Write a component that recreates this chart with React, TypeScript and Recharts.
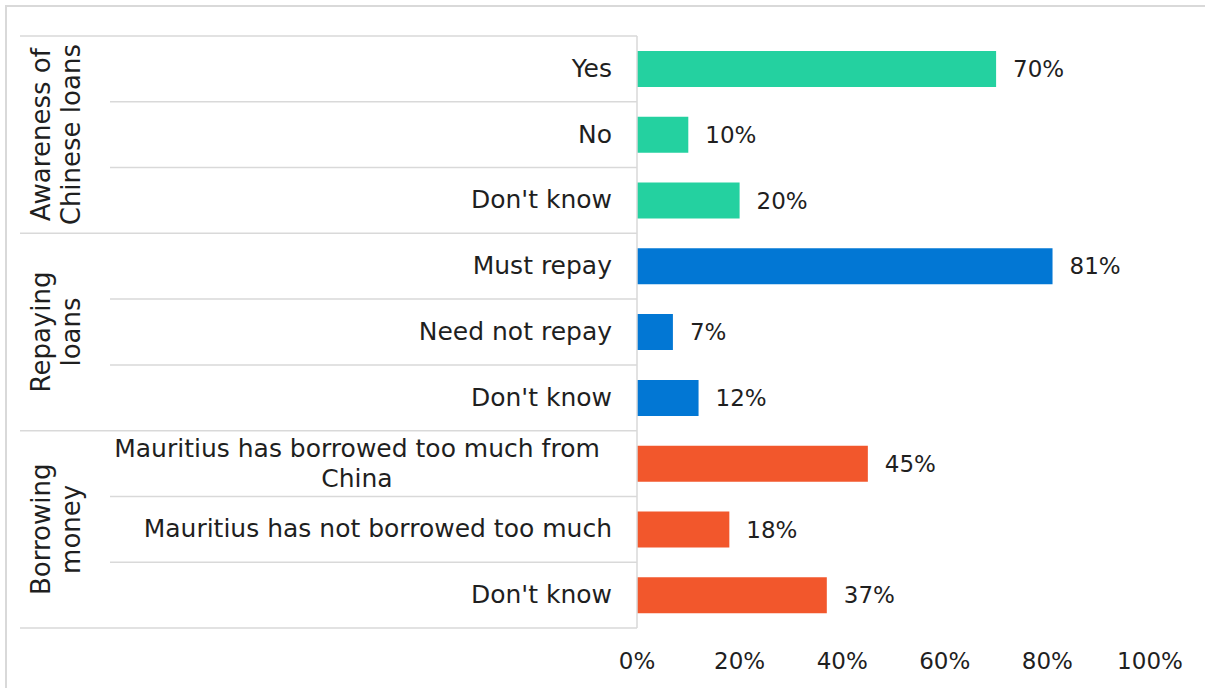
import React from 'react'
import { BarChart, Bar, XAxis, YAxis, Cell, LabelList } from 'recharts'

const categories = [
  'Yes',
  'No',
  "Don't know",
  'Must repay',
  'Need not repay',
  "Don't know",
  'Mauritius has borrowed too much from China',
  'Mauritius has not borrowed too much',
  "Don't know",
]
const values = [70, 10, 20, 81, 7, 12, 45, 18, 37]
const groupNames = [
  ['Awareness of', 'Chinese loans'],
  ['Repaying', 'loans'],
  ['Borrowing', 'money'],
]
const groupColors = ['#24D1A0', '#0277D4', '#F2572C']
const xTicks = [0, 20, 40, 60, 80, 100]

const data = categories.map((name, i) => ({ id: i, name, value: values[i] }))

const W = 1205
const H = 688
const TOP = 36
const BOTTOM = 628
const LEFT = 637
const RIGHT = 1150
const ROW = (BOTTOM - TOP) / categories.length
const GRID = '#d9d9d9'
const FONT = '"DejaVu Sans", sans-serif'
const INK = '#1f1f1f'

function CategoryTick(props: any) {
  const { y, payload, index } = props
  const i = typeof index === 'number' ? index : payload.index
  const top = y - ROW / 2
  const first = i % 3 === 0
  const g = Math.floor(i / 3)
  return (
    <g>
      <line x1={first ? 20 : 110} x2={LEFT} y1={top} y2={top} stroke={GRID} strokeWidth={1.5} />
      {i === categories.length - 1 && (
        <line x1={20} x2={LEFT} y1={top + ROW} y2={top + ROW} stroke={GRID} strokeWidth={1.5} />
      )}
      <foreignObject x={102} y={top} width={510} height={ROW}>
        <div
          style={{
            height: '100%',
            display: 'flex',
            alignItems: 'center',
            justifyContent: 'flex-end',
            textAlign: 'center',
            fontFamily: FONT,
            fontSize: 25,
            lineHeight: '30px',
            color: INK,
          }}
        >
          <span>{categories[i]}</span>
        </div>
      </foreignObject>
      {i % 3 === 1 && (
        <text
          transform={`rotate(-90, 65, ${y})`}
          x={65}
          y={y}
          textAnchor="middle"
          fontFamily={FONT}
          fontSize={26}
          fill={INK}
        >
          <tspan x={65} y={y - 15}>{groupNames[g][0]}</tspan>
          <tspan x={65} y={y + 15}>{groupNames[g][1]}</tspan>
        </text>
      )}
    </g>
  )
}

export default function App() {
  return (
    <div style={{ position: 'relative', width: W, height: H, background: '#fff', overflow: 'hidden' }}>
      <style>{'body{margin:0}'}</style>
      <div
        style={{
          position: 'absolute',
          left: 5,
          top: 5,
          width: W,
          height: H,
          borderLeft: `2px solid ${GRID}`,
          borderTop: `2px solid ${GRID}`,
        }}
      />
      <BarChart
        width={W}
        height={H}
        data={data}
        layout="vertical"
        margin={{ top: TOP, right: W - RIGHT, bottom: 0, left: 0 }}
        barCategoryGap={0}
      >
        <XAxis
          type="number"
          domain={[0, 100]}
          ticks={xTicks}
          tickFormatter={(v: number) => `${v}%`}
          axisLine={false}
          tickLine={false}
          height={H - BOTTOM}
          tickMargin={19}
          tick={{ fill: INK, fontSize: 23, fontFamily: FONT }}
        />
        <YAxis
          type="category"
          dataKey="id"
          width={LEFT}
          axisLine={{ stroke: GRID, strokeWidth: 1.5 }}
          tickLine={false}
          tick={<CategoryTick />}
          interval={0}
        />
        <Bar dataKey="value" barSize={36} isAnimationActive={false}>
          {data.map((d) => (
            <Cell key={d.id} fill={groupColors[Math.floor(d.id / 3)]} />
          ))}
          <LabelList
            dataKey="value"
            position="right"
            offset={17}
            formatter={(v: any) => `${v}%`}
            fill={INK}
            fontSize={23}
            fontFamily={FONT}
          />
        </Bar>
      </BarChart>
    </div>
  )
}
